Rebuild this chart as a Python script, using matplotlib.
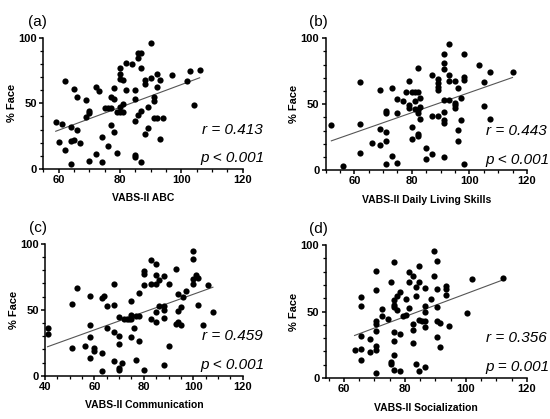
import numpy as np
import matplotlib
matplotlib.use("Agg")
import matplotlib.pyplot as plt
from matplotlib.ticker import MultipleLocator

plt.rcParams['font.family'] = ['Liberation Sans', 'DejaVu Sans']

# % Face vs VABS-II scores
abc_x = [59, 60, 61, 62, 62, 64, 64, 64, 65, 65, 66, 66, 67, 69, 69, 70, 70, 70,
         72, 73, 72, 74, 74, 75, 76, 76, 77, 77, 77, 78, 78, 78, 79, 79, 80, 80,
         80, 80, 80, 81, 81, 81, 82, 82, 84, 85, 85, 85, 85, 85, 86, 86, 86, 87,
         87, 87, 87, 88, 88, 88, 89, 89, 90, 90, 91, 91, 91, 92, 92, 92, 93, 93,
         94, 97, 102, 103, 104, 106]
abc_y = [35.8, 20.8, 34.5, 66.8, 14.0, 32.2, 3.8, 21.0, 61.2, 22.0, 54.6, 29.4,
         19.5, 52.5, 39.3, 44.2, 42.4, 6.1, 62.7, 59.4, 11.4, 24.6, 5.6, 46.7,
         46.7, 17.8, 55.1, 46.7, 33.5, 61.4, 53.6, 27.9, 12.4, 43.7, 77.2, 72.3,
         68.5, 47.5, 43.7, 67.8, 49.2, 43.7, 81.0, 60.2, 79.7, 59.9, 53.3, 36.3,
         10.7, 8.9, 84.8, 88.6, 41.4, 88.1, 77.2, 44.2, 5.1, 67.8, 64.7, 26.4,
         47.2, 31.0, 95.7, 69.3, 54.6, 51.5, 39.1, 72.3, 62.2, 39.1, 67.8, 23.1,
         39.1, 71.3, 67.0, 74.4, 48.5, 75.1]

dls_x = [52, 56, 62, 62, 62, 66, 69, 69, 69, 71, 71, 71, 71, 71, 73, 73, 75, 75,
         75, 77, 78, 79, 79, 79, 80, 80, 80, 81, 81, 81, 82, 82, 82, 82, 82, 82,
         83, 83, 83, 85, 85, 87, 87, 87, 89, 89, 89, 89, 89, 91, 91, 91, 91, 91,
         91, 91, 91, 93, 93, 93, 93, 95, 95, 95, 95, 96, 96, 96, 97, 97, 98, 98,
         98, 98, 103.5, 105, 105, 107, 107, 115]
dls_y = [33.9, 3.3, 66.6, 35.2, 13.3, 20.4, 60.7, 31.1, 19.1, 44.9, 43.1, 28.8,
         21.7, 4.6, 62.0, 10.7, 54.1, 43.4, 5.6, 52.0, 59.2, 67.6, 49.2, 47.2,
         59.2, 32.9, 23.7, 59.2, 52.3, 46.2, 59.2, 45.4, 43.4, 77.3, 27.6, 25.5,
         54.8, 48.0, 38.8, 16.8, 8.2, 72.2, 40.8, 12.0, 69.4, 66.3, 62.8, 60.7,
         40.8, 88.3, 81.1, 76.8, 53.1, 43.9, 38.3, 35.7, 9.7, 95.9, 72.2, 67.3,
         53.1, 67.3, 51.0, 49.0, 46.7, 62.2, 30.1, 22.4, 54.3, 38.3, 88.3, 70.9,
         67.9, 4.6, 79.6, 66.8, 48.5, 74.7, 38.5, 74.2]

com_x = [41, 41, 53, 51, 51, 56, 58, 58, 58, 58, 60, 60, 63, 64, 63, 63, 65, 65,
         68, 68, 68, 68, 70, 70, 70, 70, 70, 71, 72, 73, 74, 75, 75, 75, 75, 76,
         77, 77, 78, 78, 78, 80, 80, 80, 80, 83, 83, 83, 85, 85, 85, 85, 85, 86,
         86, 88, 88, 88, 88, 88, 90, 90, 93, 93, 94, 94, 94, 95, 95, 96, 97, 100,
         100, 100, 100, 101, 102, 102, 104, 106, 108]
com_y = [36.0, 31.6, 66.6, 54.4, 20.8, 22.3, 60.8, 38.7, 29.1, 13.7, 20.8, 19.0,
         58.7, 60.8, 17.2, 3.3, 53.2, 35.9, 69.6, 53.4, 33.4, 10.9, 44.3, 30.4,
         24.1, 6.1, 4.3, 10.1, 43.0, 43.0, 43.0, 56.7, 46.1, 43.0, 29.6, 36.0,
         45.6, 12.2, 45.6, 26.6, 62.8, 79.7, 77.2, 68.6, 4.8, 87.6, 69.6, 43.0,
         84.6, 76.7, 69.6, 41.0, 48.0, 72.9, 53.2, 75.7, 53.2, 49.9, 43.8, 8.4,
         69.6, 22.8, 39.0, 81.3, 61.8, 48.9, 40.5, 52.4, 38.5, 59.5, 64.3, 94.9,
         88.4, 73.4, 69.4, 76.5, 73.9, 53.9, 38.5, 68.6, 48.1]

soc_x = [63.5, 65.5, 65.5, 65.5, 65.5, 65.5, 68.5, 68.5, 70.5, 70.5, 70.5, 70.5,
         70.5, 70.5, 70.5, 70.5, 72.5, 72.5, 74.5, 75.5, 75.5, 75.5, 76.5, 76.5,
         76.5, 76.5, 76.5, 76.5, 76.5, 76.5, 77.5, 77.5, 78.5, 78.5, 78.5, 79.5,
         80.5, 80.5, 81.5, 81.5, 81.5, 82.5, 82.5, 82.5, 82.5, 83.5, 83.5, 83.5,
         84.5, 84.5, 84.5, 84.5, 85.5, 86.5, 86.5, 86.5, 86.5, 86.5, 86.5, 88.5,
         89.5, 89.5, 90.5, 90.5, 90.5, 90.5, 90.5, 91.5, 91.5, 93.5, 93.5, 93.5,
         94.5, 100.5, 102, 112]
soc_y = [20.8, 60.9, 54.1, 31.8, 22.1, 13.8, 29.3, 19.8, 80.2, 66.4, 42.6, 40.6,
         35.3, 24.3, 21.3, 3.5, 52.1, 46.4, 44.4, 71.9, 12.0, 10.5, 87.5, 58.9,
         54.9, 53.1, 34.3, 27.6, 17.3, 6.3, 61.4, 51.1, 64.4, 33.3, 5.0, 46.4,
         59.4, 47.4, 79.4, 72.4, 52.4, 76.9, 40.6, 36.1, 26.3, 68.2, 61.4, 10.5,
         84.5, 71.9, 43.6, 5.5, 43.1, 67.9, 54.4, 49.4, 43.1, 38.6, 8.5, 59.4,
         95.5, 76.9, 88.2, 66.9, 53.1, 43.1, 30.6, 41.6, 23.1, 68.9, 66.9, 62.4,
         38.8, 48.6, 74.4, 74.9]

panels = [
    ("(a)", abc_x, abc_y, "VABS-II ABC", (55, 120), "r = 0.413", "p < 0.001"),
    ("(b)", dls_x, dls_y, "VABS-II Daily Living Skills", (50, 120), "r = 0.443", "p < 0.001"),
    ("(c)", com_x, com_y, "VABS-II Communication", (40, 120), "r = 0.459", "p < 0.001"),
    ("(d)", soc_x, soc_y, "VABS-II Socialization", (54, 120), "r = 0.356", "p = 0.001"),
]

# axes boxes in figure fractions [left, bottom, width, height]
boxes = [
    [0.079, 0.597, 0.362, 0.313],
    [0.592, 0.594, 0.366, 0.315],
    [0.082, 0.103, 0.359, 0.315],
    [0.592, 0.098, 0.366, 0.317],
]

fig = plt.figure(figsize=(5.5, 4.19), dpi=100)

for (letter, xs, ys, xlabel, xlim, rtxt, ptxt), box in zip(panels, boxes):
    ax = fig.add_axes(box)
    xs = np.array(xs, dtype=float)
    ys = np.array(ys, dtype=float)
    ax.scatter(xs, ys, s=20, color='black', linewidths=0, zorder=3, clip_on=False)

    # least squares fit line over the data range
    slope, icpt = np.polyfit(xs, ys, 1)
    lx = np.array([xs.min(), xs.max()])
    ax.plot(lx, slope * lx + icpt, color='#555555', lw=0.8, zorder=2)

    ax.set_xlim(*xlim)
    ax.set_ylim(0, 100)
    ax.set_xticks([60, 80, 100, 120] if xlim[0] > 40 else [40, 60, 80, 100, 120])
    ax.set_yticks([0, 50, 100])
    ax.xaxis.set_minor_locator(MultipleLocator(5))
    ax.yaxis.set_minor_locator(MultipleLocator(10))

    for side in ('top', 'right'):
        ax.spines[side].set_visible(False)
    for side in ('left', 'bottom'):
        ax.spines[side].set_linewidth(1.1)
    ax.tick_params(which='major', length=3, width=1.1, labelsize=8, pad=1.5)
    ax.tick_params(which='minor', length=2, width=0.9)
    for lab in ax.get_xticklabels() + ax.get_yticklabels():
        lab.set_fontweight('bold')

    ax.set_xlabel(xlabel, fontsize=7.5, fontweight='bold', labelpad=6)
    ax.set_ylabel("% Face", fontsize=8, fontweight='bold', labelpad=1)

    ax.text(1.10, 0.30, rtxt, transform=ax.transAxes, ha='right', va='center',
            fontsize=11, style='italic')
    ax.text(1.11, 0.08, ptxt, transform=ax.transAxes, ha='right', va='center',
            fontsize=11, style='italic')
    ax.text(-0.08, 1.12, letter, transform=ax.transAxes, ha='left', va='center',
            fontsize=11)

fig.savefig("out.png", dpi=100)
